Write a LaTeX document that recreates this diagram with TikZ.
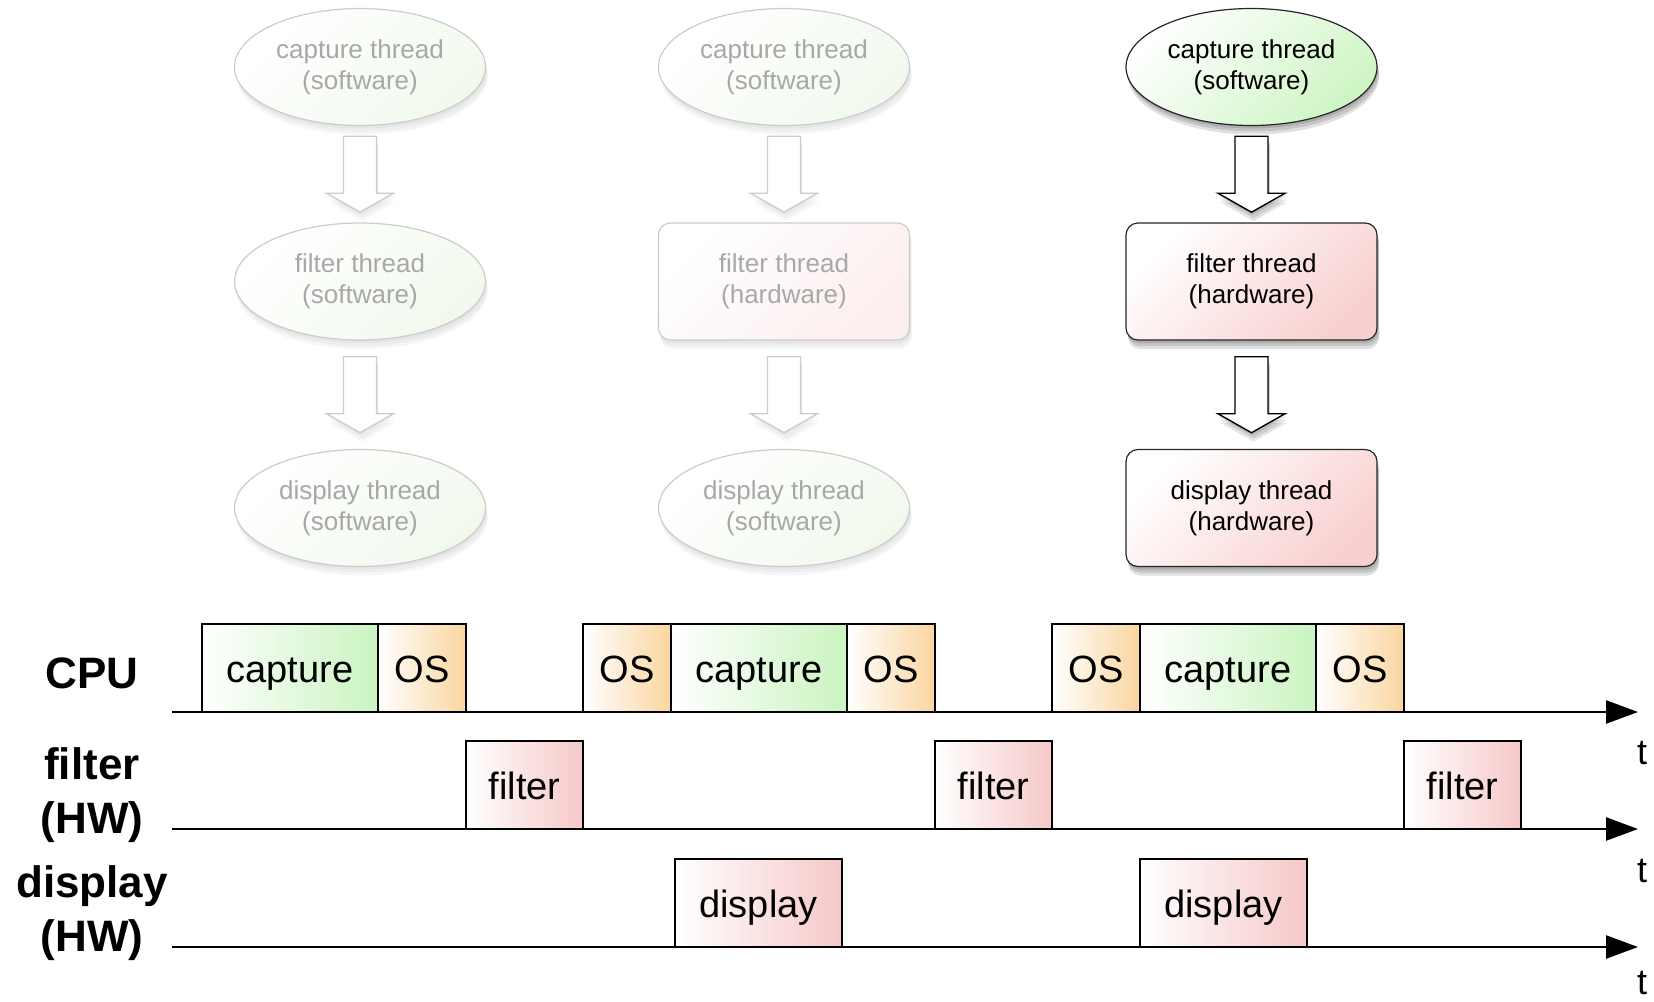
\documentclass[tikz,border=0pt]{standalone}
\usepackage{fontspec}
\setmainfont{Liberation Sans}
\usetikzlibrary{arrows.meta,shapes.geometric,shadows,calc}

\definecolor{capgreen}{RGB}{202,244,192}
\definecolor{osorange}{RGB}{250,213,160}
\definecolor{hwpink}{RGB}{246,200,200}
\definecolor{swgreen}{RGB}{206,245,196}
\definecolor{hwrose}{RGB}{249,208,208}
\definecolor{paleline}{RGB}{204,204,204}
\definecolor{paletext}{RGB}{168,168,168}
\definecolor{palegreen}{RGB}{241,249,237}
\definecolor{palerose}{RGB}{252,238,238}

\tikzset{
  softshadow/.style={
    general shadow={shadow xshift=1pt, shadow yshift=-3pt, fill=black, opacity=#1},
    general shadow={shadow xshift=2pt, shadow yshift=-6pt, fill=black, opacity=#1},
    general shadow={shadow xshift=2pt, shadow yshift=-9pt, fill=black, opacity=#1}},
  thread/.style={align=center, inner sep=0pt, minimum width=251pt,
    minimum height=117pt, line width=1.2pt, font=\fontsize{26}{31}\selectfont},
  swnode/.style={thread, ellipse, draw=black!85, top color=white,
    bottom color=swgreen, shading angle=45, softshadow=0.12},
  hwnode/.style={thread, rectangle, rounded corners=12pt, draw=black!85,
    top color=white, bottom color=hwrose, shading angle=45, softshadow=0.12},
  swfaded/.style={thread, ellipse, draw=paleline, text=paletext, top color=white,
    bottom color=palegreen, shading angle=45, softshadow=0.035},
  hwfaded/.style={thread, rectangle, rounded corners=12pt, draw=paleline,
    text=paletext, top color=white, bottom color=palerose, shading angle=45,
    softshadow=0.035},
  darkarrow/.style={draw=black, line width=1.4pt, fill=white, softshadow=0.1},
  fadedarrow/.style={draw=paleline, line width=1.4pt, fill=white, softshadow=0.03},
  pics/blockarrow/.style={code={
    \draw[#1] (-16.5,-38) -- (-16.5,19) -- (-33.5,19) -- (0,38) -- (33.5,19)
      -- (16.5,19) -- (16.5,-38) -- cycle;}},
  tbox/.style={draw=black, line width=2pt, inner sep=0pt, outer sep=0pt,
    minimum height=88pt, text height=30pt, text depth=2pt,
    anchor=south west, font=\fontsize{38}{46}\selectfont},
  capbox/.style={tbox, minimum width=176pt, left color=white, right color=capgreen},
  osbox/.style={tbox, minimum width=88pt, left color=white, right color=osorange},
  filtbox/.style={tbox, minimum width=117pt, left color=white, right color=hwpink},
  dispbox/.style={tbox, minimum width=167pt, left color=white, right color=hwpink},
  axisline/.style={line width=2.5pt, -{Triangle[length=32pt,width=23pt]}},
  rowlabel/.style={font=\fontsize{44}{54}\selectfont\bfseries, align=center},
  tlabel/.style={font=\fontsize{36}{40}\selectfont, inner sep=0pt},
}

\begin{document}
\begin{tikzpicture}[x=1pt, y=-1pt]
\useasboundingbox (0,0) rectangle (1654,1001);

% thread pipelines: all software, software filter in hardware, both in hardware
\node[swfaded] (a1) at (360,67) {capture thread\\(software)};
\node[swfaded] (a2) at (360,281.5) {filter thread\\(software)};
\node[swfaded] (a3) at (360,508) {display thread\\(software)};
\pic at ($(a1.south)!0.5!(a2.north)$) {blockarrow=fadedarrow};
\pic at ($(a2.south)!0.5!(a3.north)$) {blockarrow=fadedarrow};

\node[swfaded] (b1) at (784,67) {capture thread\\(software)};
\node[hwfaded] (b2) at (784,281.5) {filter thread\\(hardware)};
\node[swfaded] (b3) at (784,508) {display thread\\(software)};
\pic at ($(b1.south)!0.5!(b2.north)$) {blockarrow=fadedarrow};
\pic at ($(b2.south)!0.5!(b3.north)$) {blockarrow=fadedarrow};

\node[swnode] (c1) at (1251.5,67) {capture thread\\(software)};
\node[hwnode] (c2) at (1251.5,281.5) {filter thread\\(hardware)};
\node[hwnode] (c3) at (1251.5,508) {display thread\\(hardware)};
\pic at ($(c1.south)!0.5!(c2.north)$) {blockarrow=darkarrow};
\pic at ($(c2.south)!0.5!(c3.north)$) {blockarrow=darkarrow};

% timeline axes
\coordinate (cpuS) at (172,712);  \coordinate (cpuE) at (1638,712);
\coordinate (filS) at (172,829);  \coordinate (filE) at (1638,829);
\coordinate (disS) at (172,947);  \coordinate (disE) at (1638,947);
\draw[axisline] (cpuS) -- (cpuE);
\draw[axisline] (filS) -- (filE);
\draw[axisline] (disS) -- (disE);

\node[tlabel] (tcpu) at (1642,753) {t};
\node[tlabel] (tfil) at (1642,871) {t};
\node[tlabel] (tdis) at (1642,983) {t};

\node[rowlabel] (lcpu) at (92,673) {CPU};
\node[rowlabel] (lfil) at (92,795) {filter\\(HW)};
\node[rowlabel] (ldis) at (92,913) {display\\(HW)};

% CPU row
\node[capbox] (cap1) at (202,712) {capture};
\node[osbox] (os1) at (cap1.south east) {OS};
\node[osbox] (os2) at (583,712) {OS};
\node[capbox] (cap2) at (os2.south east) {capture};
\node[osbox] (os3) at (cap2.south east) {OS};
\node[osbox] (os4) at (1052,712) {OS};
\node[capbox] (cap3) at (os4.south east) {capture};
\node[osbox] (os5) at (cap3.south east) {OS};

% filter row
\node[filtbox] (fil1) at (os1.south east |- filS) {filter};
\node[filtbox] (fil2) at (os3.south east |- filS) {filter};
\node[filtbox] (fil3) at (os5.south east |- filS) {filter};

% display row
\node[dispbox] (dis1) at (675,947) {display};
\node[dispbox] (dis2) at (cap3.south west |- disS) {display};
\end{tikzpicture}
\end{document}
